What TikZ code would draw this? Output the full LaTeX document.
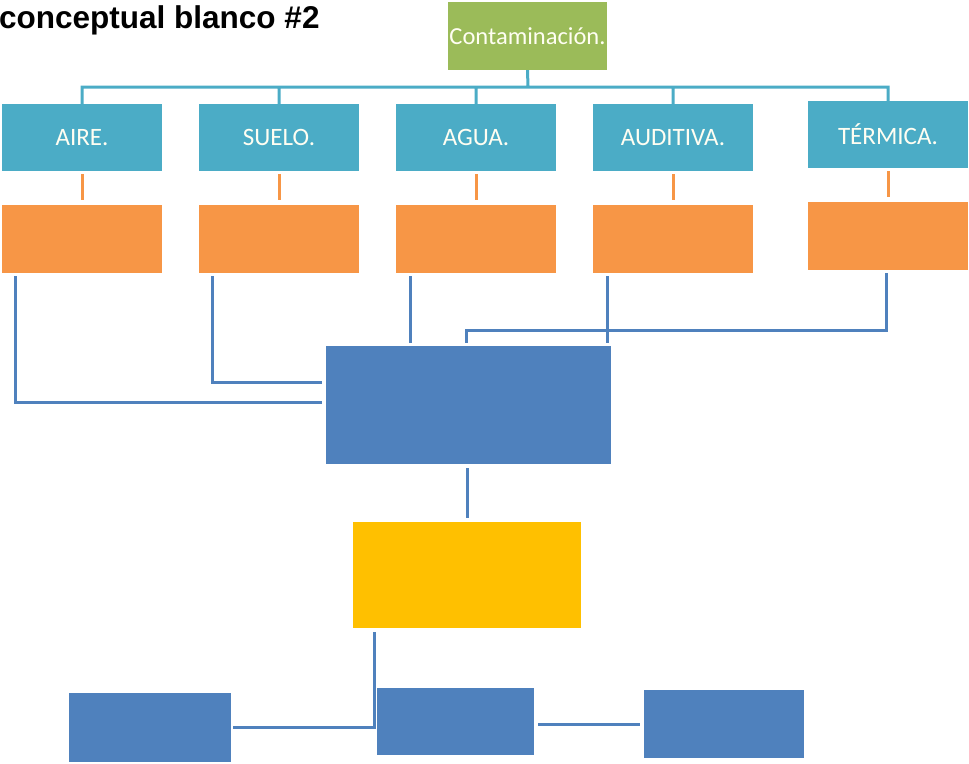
\documentclass[tikz,border=0pt]{standalone}
\usepackage{fontspec}
\setmainfont{Carlito}
\newfontfamily\titlefont{Liberation Sans}
\usetikzlibrary{positioning,calc}
\definecolor{verde}{HTML}{9BBB59}
\definecolor{cian}{HTML}{4BACC6}
\definecolor{naranja}{HTML}{F79646}
\definecolor{azul}{HTML}{4F81BD}
\definecolor{amarillo}{HTML}{FFC000}

\begin{document}
\begin{tikzpicture}[x=1pt,y=-1pt,node distance=101.5pt,on grid,
      box/.style={rectangle,inner sep=0pt,text=white!95!yellow,font=\fontsize{25}{29}\selectfont},
      top/.style={box,fill=cian,minimum width=160pt,minimum height=67pt},
      sub/.style={box,fill=naranja,minimum width=160pt,minimum height=68pt},
      tree/.style={draw=cian,line width=3pt},
      stub/.style={draw=naranja,line width=3pt,shorten <=3pt,shorten >=5pt},
      link/.style={draw=azul,line width=3pt}]
  \useasboundingbox (0,0) rectangle (969,763);
  \node[anchor=base west,inner sep=0pt,font=\titlefont\bfseries\fontsize{31.5}{33}\selectfont] (titulo) at (-1,28) {conceptual blanco \#2};
  \node[box,fill=verde,minimum width=159pt,minimum height=68pt,font=\fontsize{24.5}{28}\selectfont] (c) at (527.5,36) {Contaminación.};
  % primer nivel
  \node[top] (t1) at (82,137.5) {AIRE.};
  \node[top] (t2) at (279,137.5) {SUELO.};
  \node[top] (t3) at (476,137.5) {AGUA.};
  \node[top] (t4) at (673,137.5) {AUDITIVA.};
  \node[top] (t5) at (888,134.5) {TÉRMICA.};
  \node[sub] (o1) [below=of t1] {};
  \node[sub] (o2) [below=of t2] {};
  \node[sub] (o3) [below=of t3] {};
  \node[sub] (o4) [below=of t4] {};
  \node[sub] (o5) [below=of t5] {};
  % centro
  \node[box,fill=azul,minimum width=285pt,minimum height=118pt] (m) at (468.5,405) {};
  \node[box,fill=amarillo,minimum width=228pt,minimum height=106pt] (y) at (467,575) {};
  \node[box,fill=azul,minimum width=162pt,minimum height=69pt] (b1) at (150,727.5) {};
  \node[box,fill=azul,minimum width=157pt,minimum height=67pt] (b2) at (455.5,721.5) {};
  \node[box,fill=azul,minimum width=160pt,minimum height=68pt] (b3) at (724,724) {};
  \coordinate (bar) at (528,87);
  \path[tree]
    (c.south) -- (bar)
    (bar) -| (t1.north)
    (bar) -| (t2.north)
    (bar) -| (t3.north)
    (bar) -| (t4.north)
    (bar) -| (t5.north);
  \foreach \i in {1,...,5}
    \path[stub] (t\i) -- (o\i);
  \path[link]
    ($(o1.south west)+(14,3)$) |- ($(m.west)+(-4,-3)$)
    ($(o2.south west)+(14,3)$) |- ($(m.west)+(-4,-23)$)
    ($(o3.south west)+(15,3)$) -- ($(o3.south west |- m.north)+(15,-3)$)
    ($(o4.south west)+(15,3)$) -- ($(o4.south west |- m.north)+(15,-3)$)
    ($(o5.south)+(-2,3)$) |- ($(m.north)+(-2,-15)$) -- ($(m.north)+(-2,-3)$)
    ($(y.north |- m.south)+(0,4)$) -- ($(y.north)+(0,-4)$)
    ($(y.south west)+(22,4)$) |- ($(b1.east)+(2,0)$)
    ($(b2.east |- b3.west)+(4,0)$) -- ($(b3.west)+(-4,0)$);
\end{tikzpicture}
\end{document}
